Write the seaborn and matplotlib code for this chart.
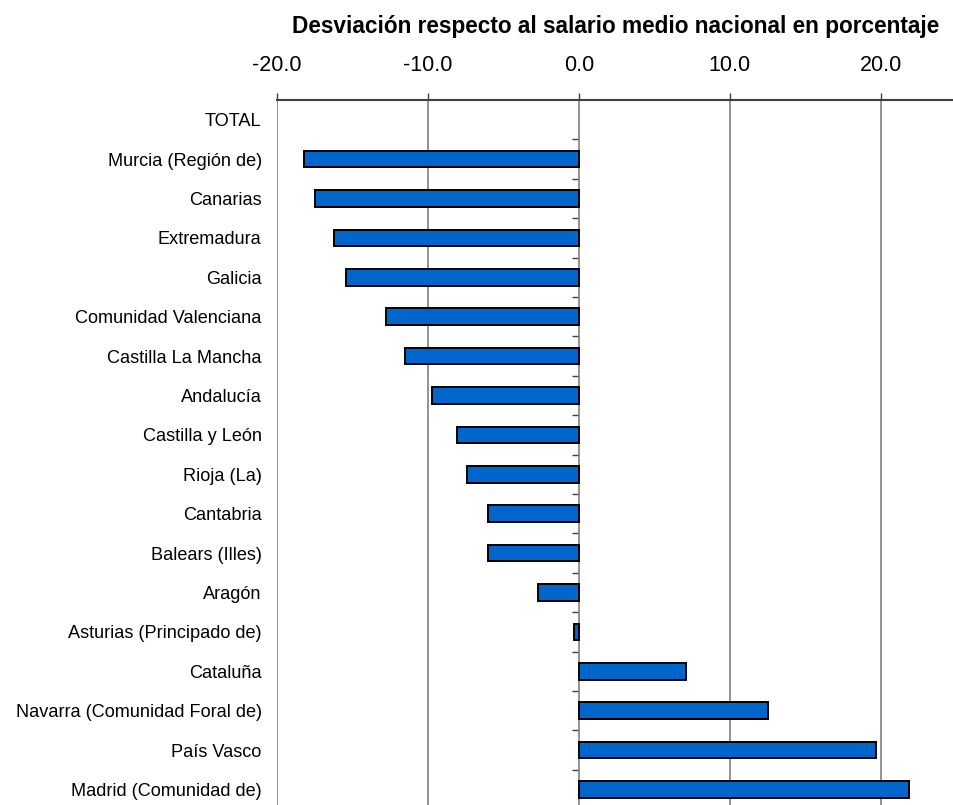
import pandas as pd
import matplotlib
matplotlib.use('Agg')
import matplotlib.pyplot as plt
import seaborn as sns
import numpy as np

# datos
comunidades = ['TOTAL', 'Murcia (Región de)', 'Canarias', 'Extremadura', 'Galicia',
               'Comunidad Valenciana', 'Castilla La Mancha', 'Andalucía',
               'Castilla y León', 'Rioja (La)', 'Cantabria', 'Balears (Illes)',
               'Aragón', 'Asturias (Principado de)', 'Cataluña',
               'Navarra (Comunidad Foral de)', 'País Vasco', 'Madrid (Comunidad de)']
desviacion = [0.0, -18.2, -17.5, -16.2, -15.4, -12.8, -11.5, -9.7, -8.1, -7.4,
              -6.0, -6.0, -2.7, -0.3, 7.1, 12.5, 19.7, 21.9]
ticks_x = [-20, -10, 0, 10, 20]

df = pd.DataFrame({'comunidad': comunidades, 'desviacion': desviacion})

sns.set_style('white')
plt.rcParams['font.family'] = ['Liberation Sans', 'DejaVu Sans']
plt.rcParams['axes.unicode_minus'] = False
plt.rcParams['text.color'] = 'black'
plt.rcParams['xtick.color'] = 'black'
plt.rcParams['ytick.color'] = 'black'

fig = plt.figure(figsize=(9.54, 8.05), dpi=100)
ax = fig.add_axes([277 / 954, 0.0, 1 - 277 / 954, 1 - 100 / 805])

sns.barplot(data=df, x='desviacion', y='comunidad', orient='h', color='#0066CC',
            saturation=1, width=0.42, edgecolor='black', linewidth=1.4, ax=ax, zorder=2)
for p in ax.patches:
    if p.get_width() == 0:
        p.set_linewidth(0)

# lineas de rejilla y del cero
for t in ticks_x:
    ax.axvline(t, color='#808080', lw=1.2, zorder=1)

ax.set_xlim(-20, 24.85)
n = len(comunidades)
ax.set_ylim(-0.5 + 705 / 39.4, -0.5)

# eje x arriba
ax.xaxis.set_ticks_position('top')
ax.xaxis.set_label_position('top')
ax.set_xticks(ticks_x)
ax.set_xticklabels([f'{t:.1f}' for t in ticks_x], fontsize=15.5)
ax.tick_params(axis='x', direction='out', length=5, width=1, color='#404040', pad=12)
ax.tick_params(axis='y', length=0, pad=11, labelsize=13.1)
ax.set_xlabel('')
ax.set_ylabel('')

for s in ['left', 'right', 'bottom']:
    ax.spines[s].set_visible(False)
ax.spines['top'].set_color('#404040')
ax.spines['top'].set_linewidth(1.5)

# marcas entre categorias sobre la linea del cero
sec = ax.secondary_yaxis(20 / 44.85)
sec.patch.set_visible(False)
sec.set_yticks(np.arange(0.5, n - 1, 1))
sec.set_yticklabels([])
sec.tick_params(axis='y', direction='out', length=5, width=1, color='#404040')
sec.spines['left'].set_visible(False)

fig.text(615.5 / 954, 1 - 27 / 805, 'Desviación respecto al salario medio nacional en porcentaje',
         ha='center', va='center', fontsize=16.3, fontweight='bold')

fig.savefig('out.png', dpi=100)
